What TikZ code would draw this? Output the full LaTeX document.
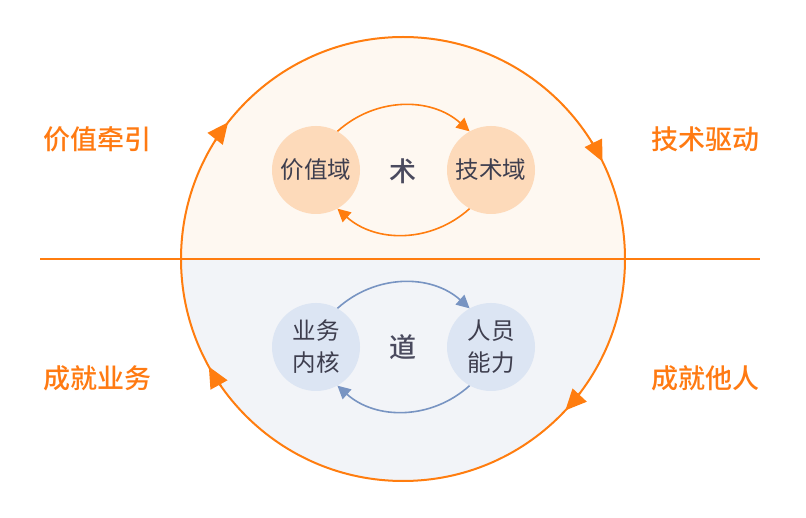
\documentclass[tikz,border=0pt]{standalone}
\usepackage{fontspec}
\usepackage{tikz}
\usetikzlibrary{arrows.meta}
\newfontfamily\cjk{Noto Sans CJK SC}
\newfontfamily\cjkmid{Noto Sans CJK SC Medium}
\definecolor{ringorange}{HTML}{FF7D0F}
\definecolor{lblorange}{HTML}{FF7A12}
\definecolor{upfill}{HTML}{FEF8F1}
\definecolor{lowfill}{HTML}{F2F4F8}
\definecolor{peach}{HTML}{FDDABA}
\definecolor{paleblue}{HTML}{DCE5F3}
\definecolor{steelblue}{HTML}{7894C2}
\definecolor{inkgray}{HTML}{3E3E4E}
\definecolor{coregray}{HTML}{4A4A5E}

\begin{document}
\begin{tikzpicture}[
    x=1pt, y=1pt,
    font=\cjk,
    realm/.style={circle, minimum size=88pt, inner sep=0pt, align=center,
      text=inkgray, font=\cjk\fontsize{23.5}{32}\selectfont},
    hotrealm/.style={realm, fill=peach},
    coldrealm/.style={realm, fill=paleblue},
    core/.style={text=coregray, font=\cjkmid\fontsize{27}{30}\selectfont},
    side/.style={text=lblorange, font=\cjkmid\fontsize{27}{30}\selectfont},
    hotflow/.style={-{Triangle[length=13pt, width=13pt]}, line width=1.6pt, ringorange},
    coldflow/.style={-{Triangle[length=13pt, width=13pt]}, line width=1.6pt, steelblue},
    ringtip/.style={-{Triangle[length=21pt, width=19pt]}, line width=2pt, ringorange}
  ]
    \useasboundingbox (0,0) rectangle (806,517);
    % Halves of the ring
    \fill[upfill] (181,258) arc (180:0:222) -- cycle;
    \fill[lowfill] (181,258) arc (180:360:222) -- cycle;
    \coordinate (mid) at (403,258);
    \draw[ringorange, line width=2pt] (mid) circle (222);
    \draw[ringorange, line width=1.5pt] (40,258) -- (760,258);
    % Arrow tips on the ring (clockwise)
    \foreach \ang in {142, 26, -43, 209}
      \draw[ringtip] ([shift={(\ang+6:222)}]mid) arc (\ang+6:\ang:222);
    % Upper half: shu
    \node[hotrealm] (val) at (316,347) {价值域};
    \node[hotrealm] (tech) at (491,347) {技术域};
    \node[core] (shu) at (403,346) {术};
    \draw[hotflow] (val.61) to[bend left=42] (tech.119);
    \draw[hotflow] (tech.-119) to[bend left=42] (val.-61);
    % Lower half: dao
    \node[coldrealm] (biz) at (316,170) {业务\\内核};
    \node[coldrealm] (ppl) at (491,170) {人员\\能力};
    \node[core] (dao) at (403,170) {道};
    \draw[coldflow] (biz.61) to[bend left=42] (ppl.119);
    \draw[coldflow] (ppl.-119) to[bend left=42] (biz.-61);
    % Side labels
    \node[side] (pull) at (97,378) {价值牵引};
    \node[side] (drive) at (705,378) {技术驱动};
    \node[side] (dobiz) at (97,139) {成就业务};
    \node[side] (doppl) at (705,139) {成就他人};
  \end{tikzpicture}
\end{document}
